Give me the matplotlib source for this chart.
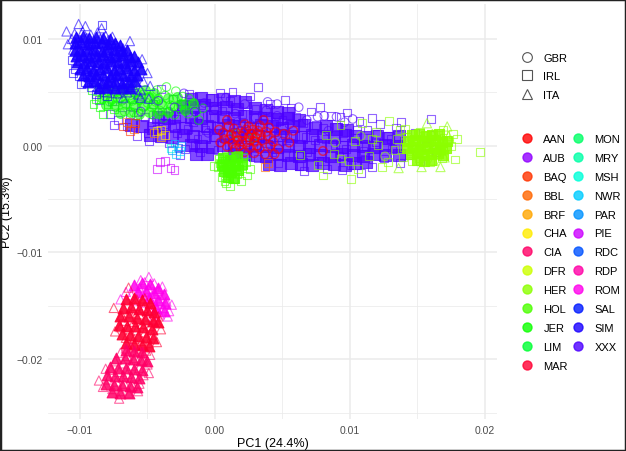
import matplotlib
matplotlib.use('Agg')
import matplotlib.pyplot as plt
from matplotlib.lines import Line2D
from matplotlib.patches import Rectangle
import numpy as np

plt.rcParams['font.family'] = ['Liberation Sans', 'DejaVu Sans']

# breed colours (legend order)
breeds = ['AAN', 'AUB', 'BAQ', 'BBL', 'BRF', 'CHA', 'CIA', 'DFR', 'HER', 'HOL', 'JER', 'LIM', 'MAR',
          'MON', 'MRY', 'MSH', 'NWR', 'PAR', 'PIE', 'RDC', 'RDP', 'ROM', 'SAL', 'SIM', 'XXX']
breed_colors = ['#FF0000', '#9000FF', '#FF3300', '#FF6600', '#FFA600', '#FFEC00', '#FF0066',
                '#CCFF00', '#8CFF00', '#4CFF00', '#0CFF00', '#00FF33', '#FF0033',
                '#00FF66', '#00FFA6', '#00FFD9', '#00CCFF', '#0092FF', '#CC00FF', '#0052FF',
                '#FF00A6', '#FF00EC', '#0019FF', '#1900FF', '#4C00FF']
countries = ['GBR', 'IRL', 'ITA']
country_markers = {'GBR': 'o', 'IRL': 's', 'ITA': '^'}

# PC coordinates, in units of 1e-3
# dense cores of the big clouds
xxx_core = [(-1.8, 4.4), (-1.0, 4.5), (-0.2, 4.3), (0.6, 4.4), (1.4, 4.2), (2.2, 4.1),
            (3.0, 3.5), (3.8, 3.3), (4.6, 3.2), (5.4, 3.1),
            (-2.4, 3.7), (-1.6, 3.6), (-0.8, 3.8), (0.0, 3.5), (0.8, 3.6), (1.6, 3.4),
            (-4.2, 2.7), (-3.4, 2.6), (-2.6, 2.8), (-1.8, 2.7),
            (-1.0, 2.6), (-0.2, 2.8), (0.6, 2.7), (1.4, 2.6), (2.2, 2.8), (3.0, 2.7), (3.8, 2.6),
            (4.6, 2.5), (5.4, 2.6), (6.2, 2.4),
            (-6.2, 1.9), (-5.4, 1.8), (-4.6, 1.7), (-3.8, 1.9), (-3.0, 1.8), (-2.2, 1.7), (-1.4, 1.9),
            (-0.6, 1.8), (0.2, 1.7), (1.0, 1.9), (1.8, 1.8), (2.6, 1.7), (3.4, 1.9), (4.2, 1.8),
            (5.0, 1.7), (5.8, 1.8), (6.6, 1.9), (7.4, 1.7), (8.2, 1.8), (9.0, 1.6), (9.8, 1.5),
            (-4.8, 1.0), (-4.0, 0.9), (-3.2, 0.8), (-2.4, 1.0), (-1.6, 0.9), (-0.8, 0.8), (0.0, 1.0),
            (0.8, 0.9), (1.6, 0.8), (2.4, 1.0), (3.2, 0.9), (4.0, 0.8), (4.8, 1.0), (5.6, 0.9),
            (6.4, 0.8), (7.2, 1.0), (8.0, 0.9), (8.8, 0.8), (9.6, 1.0), (10.4, 0.9), (11.2, 0.8),
            (12.0, 0.9), (12.8, 0.7), (13.6, 0.9),
            (-1.8, 0.1), (-1.0, 0.0), (-0.2, -0.1), (0.6, 0.1), (1.4, 0.0), (2.2, -0.1), (3.0, 0.1),
            (3.8, 0.0), (4.6, -0.1), (5.4, 0.1), (6.2, 0.0), (7.0, -0.1), (7.8, 0.1), (8.6, 0.0),
            (9.4, -0.1), (10.2, 0.1), (11.0, 0.0), (11.8, -0.1), (12.6, 0.1), (13.4, 0.0),
            (-1.4, -0.8), (-0.6, -0.8), (1.4, -0.8),
            (2.2, -0.8), (3.0, -0.9), (3.8, -1.0), (4.6, -0.8), (5.4, -0.9), (6.2, -1.0), (7.0, -0.8),
            (7.8, -0.9), (8.6, -1.0), (9.4, -0.8), (10.2, -0.9), (11.0, -1.0), (11.8, -0.8), (12.6, -0.9),
            (13.6, -0.9), (4.0, -1.7), (4.8, -1.8), (5.6, -1.6), (6.4, -1.7), (7.2, -1.8), (8.0, -1.6),
            (8.8, -1.7), (9.6, -1.8), (10.4, -1.6), (11.2, -1.5)]
jer_core = [(-8.0, 5.2), (-7.3, 5.1), (-6.6, 5.3), (-5.9, 5.0), (-5.2, 5.2), (-4.5, 4.9),
            (-8.4, 4.5), (-7.7, 4.4), (-7.0, 4.6), (-6.3, 4.5), (-5.6, 4.4), (-4.9, 4.6), (-4.2, 4.4),
            (-3.5, 4.5), (-8.1, 3.8), (-7.4, 3.7), (-6.7, 3.9), (-6.0, 3.8), (-5.3, 3.7), (-4.6, 3.9),
            (-3.9, 3.8), (-3.2, 3.7), (-2.5, 3.9), (-7.0, 3.1), (-6.3, 3.2), (-5.6, 3.0), (-4.9, 3.2),
            (-4.2, 3.1), (-3.5, 3.2), (-2.2, 3.3), (-1.6, 4.0), (-2.8, 4.6)]
sim_core = [(-10.3, 10.2), (-9.8, 10.3), (-9.3, 10.1), (-8.8, 10.2), (-8.3, 10.1), (-7.8, 10.0),
            (-10.4, 9.6), (-9.9, 9.7), (-9.4, 9.5), (-8.9, 9.6), (-8.4, 9.7), (-7.9, 9.5), (-7.4, 9.6),
            (-7.0, 9.4), (-10.4, 9.0), (-9.9, 8.9), (-9.4, 9.1), (-8.9, 9.0), (-8.4, 8.9), (-7.9, 9.1),
            (-7.4, 9.0), (-6.9, 8.9), (-6.5, 9.0), (-10.3, 8.4), (-9.8, 8.5), (-9.3, 8.3), (-8.8, 8.4),
            (-8.3, 8.5), (-7.8, 8.3), (-7.3, 8.4), (-6.8, 8.5), (-6.3, 8.3), (-6.0, 8.4),
            (-10.2, 7.8), (-9.7, 7.7), (-9.2, 7.9), (-8.7, 7.8), (-8.2, 7.7), (-7.7, 7.9), (-7.2, 7.8),
            (-6.7, 7.7), (-6.2, 7.9), (-5.7, 7.8), (-10.0, 7.2), (-9.5, 7.3), (-9.0, 7.1), (-8.5, 7.2),
            (-8.0, 7.3), (-7.5, 7.1), (-7.0, 7.2), (-6.5, 7.3), (-6.0, 7.1), (-5.5, 7.2),
            (-9.8, 6.6), (-9.3, 6.5), (-8.8, 6.7), (-8.3, 6.6), (-7.8, 6.5), (-7.3, 6.7), (-6.8, 6.6),
            (-6.3, 6.5), (-5.8, 6.6), (-9.4, 6.0), (-8.9, 6.1), (-8.4, 5.9), (-7.9, 6.0), (-7.4, 6.1),
            (-6.9, 5.9), (-6.4, 6.0), (-5.9, 6.1), (-8.6, 5.4), (-8.0, 5.5), (-7.4, 5.4), (-6.8, 5.5),
            (-6.3, 5.4)]
her_core = [(14.6, 1.0), (15.1, 1.1), (15.6, 0.9), (16.1, 1.0), (16.6, 1.1),
            (14.3, 0.4), (14.8, 0.5), (15.3, 0.3), (15.8, 0.4), (16.3, 0.5), (16.8, 0.3), (17.2, 0.4),
            (14.2, -0.2), (14.7, -0.1), (15.2, -0.3), (15.7, -0.2), (16.2, -0.1), (16.7, -0.3),
            (17.1, -0.2), (14.5, -0.8), (15.0, -0.7), (15.5, -0.9), (16.0, -0.8), (16.5, -0.7),
            (16.9, -0.9), (15.0, -1.3), (15.5, -1.4), (16.0, -1.3)]
hol_core = [(0.6, -1.2), (1.1, -1.3), (1.6, -1.1), (0.5, -1.8), (1.0, -1.9), (1.5, -1.8), (2.0, -1.7),
            (0.7, -2.4), (1.2, -2.5), (1.7, -2.3), (1.0, -2.9), (1.4, -3.0)]
rom_core = [(-6.0, -13.1), (-5.4, -12.9), (-4.8, -13.0), (-4.2, -13.3), (-3.8, -13.9), (-5.7, -13.7),
            (-5.1, -13.6), (-4.5, -13.8), (-4.2, -14.5), (-3.7, -14.7), (-4.4, -15.2), (-3.8, -15.5),
            (-4.9, -14.3)]
mar_core = [(-6.6, -14.4), (-6.0, -14.3), (-5.4, -14.5), (-4.8, -14.7), (-6.8, -15.2), (-6.2, -15.1),
            (-5.6, -15.3), (-5.0, -15.4), (-4.5, -15.6), (-7.0, -16.0), (-6.4, -16.0), (-5.8, -16.1),
            (-5.2, -16.2), (-4.6, -16.4), (-4.2, -16.5), (-7.1, -16.8), (-6.5, -16.9), (-5.9, -16.9),
            (-5.3, -17.0), (-4.7, -17.2), (-6.9, -17.6), (-6.3, -17.7), (-5.7, -17.8), (-5.1, -17.9),
            (-4.6, -18.0), (-6.6, -18.5), (-6.0, -18.6), (-5.4, -18.7), (-4.9, -18.8)]
cia_core = [(-6.6, -19.1), (-6.0, -19.2), (-5.4, -19.3), (-7.3, -19.9), (-6.7, -19.9), (-6.1, -20.0),
            (-5.5, -20.1), (-5.0, -20.2), (-7.8, -20.7), (-7.2, -20.8), (-6.6, -20.8), (-6.0, -20.9),
            (-5.4, -21.0), (-8.0, -21.5), (-7.4, -21.6), (-6.8, -21.6), (-6.2, -21.7), (-5.6, -21.8),
            (-8.1, -22.3), (-7.5, -22.4), (-6.9, -22.4), (-6.3, -22.5), (-5.8, -22.6), (-7.6, -23.1),
            (-7.0, -23.2), (-6.4, -23.2)]

# individual points around the cores
xxx_irl = [(-8.3, 5.0), (-7.6, 4.2), (-7.2, 2.4), (-6.8, 5.2), (-6.5, 1.8), (-6.1, 3.6), (-5.8, 0.9),
           (-5.5, 4.6), (-5.2, 2.7), (-4.9, 0.4), (-4.6, 3.9), (-4.3, 1.6), (-4.0, 5.3), (-3.7, 2.9),
           (-3.4, 0.2), (-3.1, 4.4), (-2.8, 1.2), (-2.5, 3.4), (-2.2, -0.3), (-1.9, 4.8), (-1.6, 2.2),
           (-1.3, 0.6), (-1.0, 3.8), (-0.7, 1.5), (-0.4, 4.5), (-0.1, 2.6), (0.2, -0.4), (0.5, 3.3),
           (0.8, 1.1), (1.1, 4.2), (1.4, 2.0), (1.7, -0.8), (2.0, 3.0), (2.3, 0.6), (2.6, 4.6),
           (2.9, 1.8), (3.2, -1.2), (3.5, 2.8), (3.8, 0.2), (4.1, 3.9), (4.4, 1.3), (4.7, -1.6),
           (5.0, 2.4), (5.3, -0.2), (5.6, 3.5), (5.9, 0.9), (6.2, -1.9), (6.5, 2.1), (6.8, -0.6),
           (7.1, 3.2), (7.4, 0.5), (7.7, -1.4), (8.0, 1.7), (8.3, -2.2), (8.6, 2.8), (8.9, 0.1),
           (9.2, -1.0), (9.5, 1.2), (9.8, 3.1), (10.1, -1.8), (10.4, 0.7), (10.7, 2.3), (11.0, -0.5),
           (11.3, 1.5), (11.6, -2.0), (11.9, 0.3), (12.2, 2.0), (12.5, -1.2), (12.8, 0.9), (13.1, -0.3),
           (13.4, 1.7), (13.7, -1.6), (14.0, 0.4), (14.4, -0.9), (14.8, 1.2), (15.2, -1.4), (15.6, 0.0),
           (16.0, 1.0), (16.4, -0.6), (-6.3, 3.0), (-5.0, 1.2), (-3.9, 3.2), (-2.9, 2.5), (-2.0, 1.6),
           (-1.2, 2.9), (-0.3, 1.9), (0.6, 2.5), (1.3, 1.2), (2.1, 2.1), (3.0, 3.4), (3.7, 1.0),
           (4.5, 2.2), (5.2, 1.0), (6.0, 2.7), (6.7, 0.8), (7.5, 1.9), (8.2, 0.6), (9.0, 1.8),
           (9.7, -0.3), (10.5, 1.5), (11.2, 0.0), (12.0, 1.1), (13.0, 0.6), (5.8, -1.0), (7.0, -1.1),
           (9.4, -2.3), (4.2, -0.6), (2.8, -0.2), (1.0, 0.1), (0.0, 0.8), (-1.5, 0.1), (-3.2, 1.8),
           (-4.7, 2.2), (-5.7, 3.1), (-6.9, 3.6), (-7.8, 3.0), (3.2, 5.5), (1.3, 5.0), (9.3, 2.7),
           (16.0, 2.5), (-7.5, 1.9), (-8.6, 4.3), (-7.9, 5.6), (-2.6, -0.9), (-1.1, -0.6),
           (0.4, 4.9), (5.2, 4.3), (7.8, 3.6), (11.6, 2.6), (13.8, 2.2), (10.8, -2.6), (6.6, -2.4)]
xxx_gbr = [(-5.5, 3.2), (-4.2, 4.2), (-3.0, 3.6), (-2.3, 4.9), (-1.5, 3.2), (-0.8, 4.0), (0.0, 3.4),
           (0.8, 4.5), (1.5, 3.0), (2.2, 3.9), (3.0, 2.6), (3.8, 3.3), (4.6, 2.8), (5.5, 2.0),
           (6.2, 3.6), (6.8, 2.4), (7.6, 2.7), (8.4, 1.4), (9.6, 2.2), (10.2, 2.5), (8.1, 2.8),
           (9.0, 2.7), (3.9, 4.1), (4.6, 3.9), (-3.6, 2.0), (-0.5, 1.2), (1.9, 1.4), (5.0, 0.4)]
jer_gbr = [(-8.6, 5.4), (-8.1, 4.6), (-7.7, 5.6), (-7.4, 3.8), (-7.0, 4.9), (-6.7, 3.2), (-6.4, 5.3),
           (-6.1, 4.2), (-5.8, 2.8), (-5.5, 5.0), (-5.2, 3.7), (-4.9, 4.5), (-4.6, 2.9), (-4.3, 5.2),
           (-4.0, 3.9), (-3.7, 4.7), (-3.4, 3.2), (-3.1, 4.3), (-2.7, 3.6), (-2.4, 4.6), (-2.0, 3.0),
           (-1.6, 3.9), (-6.9, 4.2), (-5.9, 3.6), (-4.7, 3.6), (-3.8, 2.6), (-5.0, 4.0), (-6.3, 4.7),
           (-7.2, 4.4), (-1.2, 2.4), (2.8, 0.7), (1.5, 1.1), (-7.8, 4.1), (-6.6, 3.9), (-5.6, 4.3),
           (-4.4, 4.1), (-3.3, 3.8), (-2.2, 3.9), (-6.0, 3.1), (-4.1, 3.3), (-5.3, 4.8), (-3.0, 2.9),
           (-1.9, 4.4), (-1.4, 3.1), (-0.9, 3.5), (-2.9, 5.1), (-3.6, 5.5), (-6.1, 5.8)]
jer_irl = [(-9.1, 5.2), (-8.8, 4.4), (-8.5, 3.6), (-8.2, 5.0), (-7.9, 3.9), (-9.0, 3.9), (-8.3, 3.0),
           (-7.5, 3.4)]
sim_ita = [(-10.4, 10.5), (-9.8, 10.7), (-9.2, 10.4), (-8.7, 10.6), (-8.1, 10.3),
           (-10.6, 10.0), (-10.0, 9.9), (-9.5, 10.1), (-9.0, 9.8), (-8.5, 10.0), (-7.9, 9.9), (-7.4, 9.6),
           (-10.3, 9.5), (-9.8, 9.4), (-9.3, 9.6), (-8.8, 9.3), (-8.3, 9.5), (-7.8, 9.2), (-7.2, 9.3),
           (-10.5, 9.0), (-10.0, 8.9), (-9.6, 9.1), (-9.1, 8.8), (-8.6, 9.0), (-8.0, 8.7), (-7.5, 8.9),
           (-7.0, 8.6), (-10.2, 8.5), (-9.7, 8.4), (-9.2, 8.6), (-8.7, 8.3), (-8.2, 8.5), (-7.7, 8.2),
           (-7.2, 8.4), (-6.6, 8.0), (-10.0, 8.0), (-9.5, 7.9), (-9.0, 8.1), (-8.5, 7.8), (-8.0, 8.0),
           (-7.4, 7.7), (-6.9, 7.9), (-6.3, 7.5), (-9.8, 7.5), (-9.3, 7.4), (-8.8, 7.6), (-8.2, 7.3),
           (-7.7, 7.5), (-7.1, 7.2), (-6.6, 7.4), (-6.0, 7.0), (-9.6, 7.0), (-9.0, 6.9), (-8.5, 7.1),
           (-8.0, 6.8), (-7.4, 7.0), (-6.9, 6.7), (-6.3, 6.8), (-9.4, 6.5), (-8.8, 6.4), (-8.3, 6.6),
           (-7.7, 6.3), (-7.1, 6.5), (-6.5, 6.2), (-5.9, 6.4), (-9.0, 6.0), (-8.5, 5.9), (-7.9, 6.1),
           (-7.3, 5.8), (-6.7, 6.0), (-6.1, 5.7), (-8.7, 5.5), (-8.1, 5.4), (-7.5, 5.6), (-6.9, 5.3),
           (-6.2, 5.5), (-5.5, 5.2), (-8.0, 5.0), (-7.2, 4.9), (-6.5, 5.0), (-5.7, 4.8), (-6.8, 4.5),
           (-5.5, 4.5), (-4.9, 4.4), (-11.0, 10.7), (-10.1, 11.4), (-6.3, 9.8), (-5.4, 8.1),
           (-10.9, 9.5), (-9.6, 11.2), (-8.4, 11.0), (-7.6, 10.2), (-6.8, 9.1), (-5.9, 7.6),
           (-5.0, 6.8), (-4.8, 5.6), (-5.3, 6.0)]
sim_irl = [(-10.6, 8.0), (-10.4, 7.2), (-10.1, 6.5), (-9.6, 6.0), (-9.2, 5.5), (-8.6, 5.3), (-10.5, 6.8),
           (-9.9, 5.8), (-8.4, 11.3), (-8.8, 4.8), (-8.0, 4.6)]
aan_gbr = [(0.3, 1.5), (0.7, 0.6), (1.0, 1.8), (1.3, 0.2), (1.6, 1.2), (1.9, -0.4), (2.2, 2.0), (2.5, 0.8),
           (2.8, 1.5), (3.1, 0.0), (3.4, 1.0), (3.7, -0.8), (4.0, 1.7), (4.3, 0.4), (4.7, -0.3), (5.1, 1.1),
           (5.5, 0.3), (2.0, 0.9), (2.6, -0.2), (3.3, 1.9), (1.2, 1.0), (3.9, 0.9), (2.3, 1.5), (2.9, 0.4),
           (1.7, 0.5), (4.5, 1.3), (0.9, 2.4), (3.6, 2.4), (5.8, 1.4), (8.0, -0.5), (1.4, 1.6), (1.8, 0.0),
           (2.4, 0.3), (2.1, 1.2), (2.7, 1.1), (3.0, 0.8), (3.2, 1.4), (3.5, 0.5), (1.1, 0.6), (0.6, 1.2),
           (2.5, 1.8), (4.1, 0.0), (3.8, 1.3), (1.5, -0.3), (2.2, -0.6), (0.9, -0.1), (2.9, -0.7),
           (3.3, -0.3), (2.0, 0.4), (1.6, 0.8), (2.6, 0.5), (3.1, 1.1), (0.4, 0.3), (4.4, -0.8)]
hol_irl = [(0.3, -1.2), (0.6, -2.0), (0.9, -1.0), (1.2, -2.6), (1.5, -1.5), (1.8, -2.2), (2.1, -1.1),
           (2.4, -2.8), (0.5, -2.9), (0.8, -3.5), (1.1, -1.8), (1.4, -3.1), (1.7, -0.9), (2.0, -1.9),
           (2.3, -1.5), (0.4, -1.6), (1.0, -2.4), (1.6, -2.7), (1.3, -1.3), (1.9, -3.3), (-0.1, -1.9),
           (0.7, -1.4), (2.6, -2.2), (1.1, -3.8), (0.2, -2.0), (0.7, -3.3), (0.5, -1.4)]
her_irl = [(14.2, 0.8), (14.5, -0.5), (14.8, 0.3), (15.1, -1.2), (15.4, 0.9), (15.7, -0.2), (16.0, 0.6),
           (16.3, -0.9), (16.6, 0.2), (16.9, -0.4), (17.2, 0.5), (14.6, -1.4), (15.2, 1.3), (15.9, -1.5),
           (16.5, 1.0), (14.0, -0.1), (15.5, 0.0), (16.2, -0.3), (14.9, -0.6), (16.8, -1.2),
           (7.6, -1.8), (8.2, 1.0), (8.8, -0.8), (9.3, 1.9), (9.9, -1.4), (10.4, 0.4), (10.9, 2.1),
           (11.4, -1.0), (11.9, 1.3), (12.4, -2.0), (12.9, 2.3), (13.3, -0.4), (13.7, 1.5), (12.1, 0.1),
           (10.6, -2.2), (19.6, -0.6), (17.8, -1.3), (17.6, 1.1), (6.3, -0.9), (8.0, -2.8),
           (9.3, -1.2), (10.1, -3.1), (13.5, 0.6), (13.9, -1.1), (12.8, -1.5), (11.6, 0.6), (17.5, 0.0),
           (17.9, 0.6), (14.1, 1.6), (16.9, 1.5)]
her_ita = [(15.0, 0.5), (15.6, -0.8), (16.1, 1.1), (16.7, 0.0), (17.0, -1.1), (15.3, -0.3), (16.4, 0.4),
           (15.8, 0.9), (14.7, 0.1), (17.3, 0.9), (16.2, -1.4), (15.7, 2.1), (17.2, 1.8), (16.7, -2.0),
           (15.3, -2.0), (16.5, 0.6), (13.6, -2.1)]
her_gbr = [(10.8, 0.9), (12.6, -1.0), (8.9, 0.3)]
baq_irl = [(-6.8, 1.8), (-6.3, 1.4), (-5.9, 2.1)]
bbl_irl = [(-6.5, 2.2), (-6.0, 1.6), (3.7, -2.0), (3.9, -1.6)]
brf_irl = [(-4.5, 1.2), (-4.0, 0.8)]
cha_irl = [(-4.3, 1.4), (-3.7, 1.0), (-4.0, 1.5)]
msh_irl = [(-3.3, -0.2)]
nwr_irl = [(-3.0, 0.2), (-2.6, -0.5), (-2.9, -0.8)]
par_irl = [(-3.2, -0.4), (-2.5, 0.0)]
rdc_irl = [(-2.7, -0.2)]
pie_irl = [(-4.1, -1.5), (-3.3, -2.1), (-3.0, -2.3), (-3.7, -1.4), (-4.3, -2.2)]
rom_ita = [(-4.9, -12.3), (-5.2, -12.8), (-4.5, -12.9), (-5.6, -13.3), (-4.9, -13.4), (-4.2, -13.6),
           (-5.4, -14.0), (-4.7, -14.1), (-4.0, -14.3), (-3.6, -14.6), (-5.9, -14.5), (-5.1, -14.7),
           (-4.4, -14.9), (-3.8, -15.2), (-3.4, -15.5), (-5.6, -15.3), (-4.8, -15.5), (-4.1, -15.8),
           (-6.2, -14.0), (-5.5, -12.6), (-4.6, -16.2), (-3.9, -13.2), (-7.0, -14.4), (-6.6, -13.7),
           (-3.2, -14.9), (-3.5, -16.0)]
mar_ita = [(-6.4, -13.3), (-5.9, -15.0), (-5.3, -15.2), (-4.7, -15.4), (-6.3, -15.7), (-5.6, -15.8),
           (-5.0, -16.0), (-4.4, -16.3), (-6.7, -16.4), (-6.0, -16.5), (-5.4, -16.7), (-4.8, -16.9),
           (-6.4, -17.2), (-5.8, -17.3), (-5.2, -17.5), (-4.6, -17.7), (-6.6, -18.0), (-6.0, -18.1),
           (-5.4, -18.3), (-4.9, -18.5), (-6.2, -18.8), (-5.6, -19.0), (-5.1, -19.2), (-7.0, -17.0),
           (-6.9, -15.9), (-4.2, -16.0), (-5.8, -14.4), (-5.2, -14.3), (-7.5, -15.2), (-7.4, -17.4),
           (-4.0, -17.2), (-4.3, -18.4)]
cia_ita = [(-6.2, -18.9), (-5.6, -19.2), (-7.0, -19.4), (-6.5, -19.7), (-5.9, -19.9), (-5.3, -20.1),
           (-7.4, -20.2), (-6.8, -20.4), (-6.2, -20.6), (-5.6, -20.8), (-7.7, -21.0), (-7.1, -21.2),
           (-6.5, -21.4), (-5.9, -21.6), (-5.3, -21.5), (-7.9, -21.9), (-7.3, -22.1), (-6.7, -22.3),
           (-6.1, -22.5), (-5.6, -22.3), (-7.6, -22.8), (-7.0, -23.0), (-6.4, -23.2), (-8.3, -22.6),
           (-7.1, -23.7), (-5.0, -20.5), (-4.8, -19.6), (-8.1, -20.9), (-6.6, -19.0), (-5.7, -23.0),
           (-8.6, -22.0), (-4.9, -21.3)]

# drawing order: (breed, country, points, filled core?)
layers = [('XXX', 'IRL', xxx_core, True), ('XXX', 'IRL', xxx_irl, False),
          ('JER', 'IRL', jer_irl, False), ('JER', 'GBR', jer_core, True), ('JER', 'GBR', jer_gbr, False),
          ('AAN', 'GBR', aan_gbr, False), ('XXX', 'GBR', xxx_gbr, False),
          ('SIM', 'IRL', sim_irl, False), ('SIM', 'ITA', sim_ita, False), ('SIM', 'ITA', sim_core, True),
          ('BAQ', 'IRL', baq_irl, False), ('BBL', 'IRL', bbl_irl, False),
          ('BRF', 'IRL', brf_irl, False), ('CHA', 'IRL', cha_irl, False), ('MSH', 'IRL', msh_irl, False),
          ('NWR', 'IRL', nwr_irl, False), ('PAR', 'IRL', par_irl, False), ('RDC', 'IRL', rdc_irl, False),
          ('PIE', 'IRL', pie_irl, False), ('HOL', 'IRL', hol_irl, False), ('HOL', 'IRL', hol_core, True),
          ('HER', 'IRL', her_irl, False), ('HER', 'ITA', her_ita, False), ('HER', 'GBR', her_gbr, False),
          ('HER', 'IRL', her_core, True),
          ('ROM', 'ITA', rom_ita, False), ('ROM', 'ITA', rom_core, True),
          ('MAR', 'ITA', mar_ita, False), ('MAR', 'ITA', mar_core, True),
          ('CIA', 'ITA', cia_ita, False), ('CIA', 'ITA', cia_core, True)]

color_of = dict(zip(breeds, breed_colors))
marker_size = {'GBR': 38, 'IRL': 32, 'ITA': 44}
core_size = {'XXX': 70, 'JER': 50, 'SIM': 60, 'HER': 55, 'HOL': 50, 'ROM': 60, 'MAR': 60, 'CIA': 60}
core_alpha = {'XXX': 0.7, 'JER': 0.55, 'SIM': 0.9, 'HER': 0.85, 'HOL': 0.85,
              'ROM': 0.85, 'MAR': 0.9, 'CIA': 0.85}
line_width = {'AAN': 1.1}

fig = plt.figure(figsize=(6.26, 4.52), dpi=100)
ax = fig.add_axes([48 / 626, 1 - 420 / 452, 449 / 626, 415 / 452])

for breed, country, pts, core in layers:
    arr = np.array(pts) * 1e-3
    col = color_of[breed]
    if core:
        ax.scatter(arr[:, 0], arr[:, 1], s=core_size[breed], marker=country_markers[country],
                   facecolors=col, edgecolors=col, linewidths=0.8, alpha=core_alpha[breed], zorder=3)
    else:
        ax.scatter(arr[:, 0], arr[:, 1], s=marker_size[country], marker=country_markers[country],
                   facecolors='none', edgecolors=col, linewidths=line_width.get(breed, 0.8),
                   alpha=0.6, zorder=3)

ax.set_xlim(-0.01237, 0.020889)
ax.set_ylim(-0.025607, 0.013271)
ax.set_xticks([-0.01, 0.0, 0.01, 0.02])
ax.set_xticklabels(['\u22120.01', '0.00', '0.01', '0.02'])
ax.set_yticks([-0.02, -0.01, 0.0, 0.01])
ax.set_yticklabels(['\u22120.02', '\u22120.01', '0.00', '0.01'])
ax.set_xticks([-0.005, 0.005, 0.015], minor=True)
ax.set_yticks([-0.025, -0.015, -0.005, 0.005], minor=True)
ax.grid(which='major', color='#EBEBEB', linewidth=1.1, zorder=0)
ax.grid(which='minor', color='#EBEBEB', linewidth=0.55, zorder=0)
ax.set_axisbelow(True)
ax.tick_params(which='both', length=0, labelsize=7.5, labelcolor='#4D4D4D', pad=4)
for sp in ax.spines.values():
    sp.set_visible(False)
ax.set_xlabel('PC1 (24.4%)', fontsize=9, labelpad=2)
ax.set_ylabel('PC2 (15.3%)', fontsize=9, labelpad=2)

# shape legend
shape_handles = [Line2D([], [], ls='', marker=country_markers[c], markersize=7,
                        mfc='none', mec='#555555', mew=0.8) for c in countries]
leg1 = fig.legend(shape_handles, countries, loc='upper left', bbox_to_anchor=(520 / 626, 1 - 54 / 452),
                  frameon=False, fontsize=8, handlelength=1.2, handletextpad=0.9, labelspacing=0.75,
                  borderpad=0, borderaxespad=0)

# colour legend
color_handles = [Line2D([], [], ls='', marker='o', markersize=6.5, mfc=col, mec=col, alpha=0.8)
                 for col in breed_colors]
leg2 = fig.legend(color_handles, breeds, loc='upper left', bbox_to_anchor=(520 / 626, 1 - 135 / 452),
                  ncol=2, frameon=False, fontsize=8, handlelength=1.2, handletextpad=0.9,
                  labelspacing=0.8, columnspacing=0.3, borderpad=0, borderaxespad=0)

fig.patches.append(Rectangle((0, 0), 1, 1, transform=fig.transFigure, fill=False,
                             edgecolor='#222222', linewidth=2.5))

fig.savefig('out.png', dpi=100)
